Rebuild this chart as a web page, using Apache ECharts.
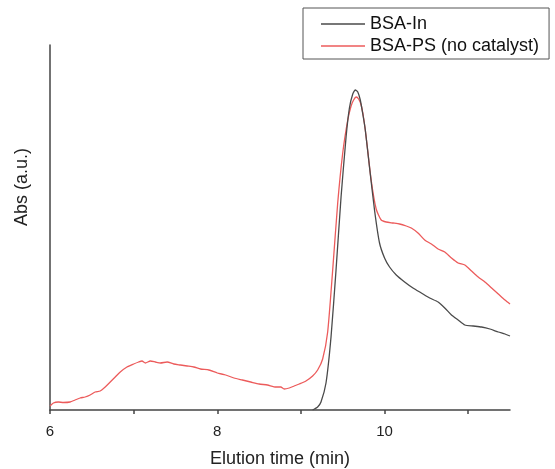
<!DOCTYPE html>
<html>
<head>
<meta charset="utf-8">
<script src="https://cdn.jsdelivr.net/npm/echarts@6/dist/echarts.min.js"></script>
<style>
html,body{margin:0;padding:0;background:#fff;}
#chart{width:555px;height:469px;}
</style>
</head>
<body>
<div id="chart"></div>
<script>
// Elution time (min) and absorbance (a.u.) values
var seriesNames = ['BSA-In', 'BSA-PS (no catalyst)'];
var xTickLabels = [6, 8, 10];

var blackX = [9.14, 9.20, 9.24, 9.30, 9.36, 9.42, 9.48, 9.54, 9.58, 9.62, 9.65, 9.68, 9.71, 9.74, 9.77, 9.82, 9.88, 9.94, 10.00, 10.06, 10.14, 10.24, 10.34, 10.44, 10.54, 10.64, 10.72, 10.80, 10.88, 10.96, 11.06, 11.16, 11.26, 11.36, 11.44, 11.50];
var blackY = [0, 3, 8, 27, 73, 140, 213, 273, 302, 316, 320, 318, 310, 296, 280, 243, 200, 167, 152, 143, 135, 128, 122, 117, 112, 108, 102, 95, 90, 85, 84, 83, 81, 78, 76, 74];

var redX = [6.00, 6.04, 6.10, 6.16, 6.24, 6.30, 6.36, 6.42, 6.48, 6.54, 6.60, 6.66, 6.72, 6.78, 6.84, 6.92, 7.00, 7.06, 7.10, 7.14, 7.20, 7.26, 7.32, 7.40, 7.48, 7.56, 7.64, 7.72, 7.80, 7.90, 8.00, 8.10, 8.20, 8.30, 8.40, 8.50, 8.60, 8.70, 8.76, 8.80, 8.86, 8.92, 8.98, 9.06, 9.14, 9.20, 9.26, 9.32, 9.38, 9.44, 9.50, 9.56, 9.60, 9.63, 9.66, 9.69, 9.72, 9.75, 9.78, 9.84, 9.90, 9.96, 10.02, 10.10, 10.18, 10.26, 10.32, 10.40, 10.48, 10.56, 10.64, 10.72, 10.80, 10.88, 10.96, 11.04, 11.12, 11.20, 11.28, 11.36, 11.44, 11.50];
var redY = [4, 7, 8, 7.5, 8, 10, 12, 13, 15, 18, 19, 23, 28, 33, 38, 43, 46, 48, 49, 47, 49, 48, 47, 48, 46, 45, 44, 43, 41, 40, 37, 35, 32, 30, 28, 26, 25, 23, 23, 21, 22, 24, 26, 29, 34, 40, 51, 78, 140, 207, 257, 290, 304, 310, 313, 311, 305, 292, 273, 230, 201, 190, 188, 187, 186, 184, 182, 177, 170, 166, 161, 158, 152, 147, 145, 139, 133, 128, 122, 116, 110, 106];

function pairs(xs, ys) {
  var out = [];
  for (var i = 0; i < xs.length; i++) out.push([xs[i], ys[i]]);
  return out;
}

var blackColor = '#4a4a4a';
var redColor = '#ec5b5b';

var chart = echarts.init(document.getElementById('chart'), null, {renderer: 'canvas'});
chart.setOption({
  animation: false,
  backgroundColor: '#ffffff',
  textStyle: {fontFamily: 'Liberation Sans, Arial, sans-serif'},
  grid: {left: 50, right: 45, top: 45, bottom: 59, containLabel: false, outerBoundsMode: 'none'},
  legend: {
    orient: 'vertical',
    left: 303,
    top: 8,
    data: seriesNames,
    icon: 'rect',
    itemWidth: 44,
    itemHeight: 1.3,
    itemGap: 4,
    padding: [7, 10, 4, 18],
    borderColor: '#555',
    borderWidth: 1,
    borderRadius: 0,
    textStyle: {fontSize: 18, color: '#111', fontFamily: 'Liberation Sans, Arial, sans-serif', lineHeight: 18},
    itemStyle: {borderWidth: 0}
  },
  xAxis: {
    type: 'value',
    min: 6,
    max: 11.5,
    interval: 1,
    name: 'Elution time (min)',
    nameLocation: 'middle',
    nameGap: 40,
    nameTextStyle: {fontSize: 18, color: '#222'},
    axisLine: {show: true, onZero: false, lineStyle: {color: '#444', width: 1.5}},
    axisTick: {show: true, inside: false, length: 4, customValues: [6, 7, 8, 9, 10, 11], lineStyle: {color: '#444', width: 1.5}},
    axisLabel: {show: true, customValues: xTickLabels, margin: 14, fontSize: 15, color: '#222'},
    splitLine: {show: false}
  },
  yAxis: {
    type: 'value',
    min: 0,
    max: 365,
    axisLine: {show: true, lineStyle: {color: '#444', width: 1.5}},
    axisTick: {show: false},
    axisLabel: {show: false},
    splitLine: {show: false}
  },
  graphic: [{
    type: 'text',
    x: 22,
    y: 187,
    rotation: Math.PI / 2,
    style: {
      text: 'Abs (a.u.)',
      fontSize: 18,
      fontFamily: 'Liberation Sans, Arial, sans-serif',
      fill: '#222',
      align: 'center',
      verticalAlign: 'middle'
    }
  }],
  series: [
    {
      name: seriesNames[0],
      type: 'line',
      symbol: 'none',
      smooth: 0.2,
      data: pairs(blackX, blackY),
      lineStyle: {color: blackColor, width: 1.3},
      itemStyle: {color: blackColor},
      z: 3
    },
    {
      name: seriesNames[1],
      type: 'line',
      symbol: 'none',
      smooth: 0.2,
      data: pairs(redX, redY),
      lineStyle: {color: redColor, width: 1.3},
      itemStyle: {color: redColor},
      z: 2
    }
  ]
});
</script>
</body>
</html>
